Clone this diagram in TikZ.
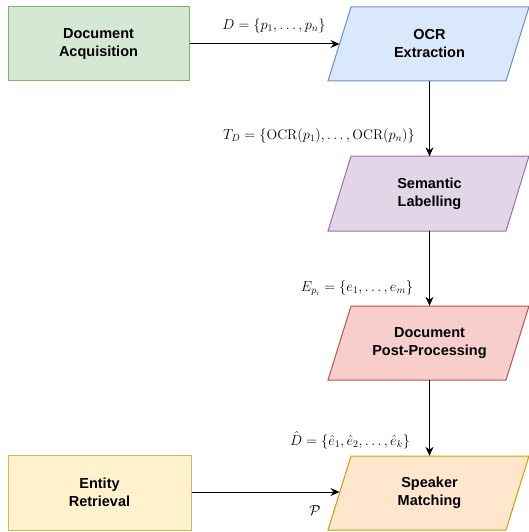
\documentclass[tikz,border=0pt]{standalone}
\usepackage{fontspec}
\setsansfont{Liberation Sans}
\usetikzlibrary{arrows.meta}
\definecolor{gfill}{HTML}{D5E8D4}\definecolor{gline}{HTML}{82B366}
\definecolor{bfill}{HTML}{DAE8FC}\definecolor{bline}{HTML}{6C8EBF}
\definecolor{pfill}{HTML}{E1D5E7}\definecolor{pline}{HTML}{9673A6}
\definecolor{rfill}{HTML}{F8CECC}\definecolor{rline}{HTML}{B85450}
\definecolor{ofill}{HTML}{FFE6CC}\definecolor{oline}{HTML}{D79B00}
\definecolor{yfill}{HTML}{FFF2CC}\definecolor{yline}{HTML}{D6B656}
\tikzset{
  shapeline/.style={line width=1pt},
  boxtext/.style={font=\sffamily\bfseries\fontsize{14.5}{18}\selectfont, align=center, inner sep=0pt},
  pgtext/.style={boxtext, minimum width=150pt, minimum height=74pt},
  rectbox/.style={boxtext, shapeline, minimum width=181pt, minimum height=74pt},
  flow/.style={line width=1pt, -{Stealth[length=9pt,width=8pt]}},
  mlabel/.style={font=\fontsize{14}{17}\selectfont, inner sep=0pt}
}
\newcommand\pgram[5]{%
  \draw[shapeline,#4] (328,#3) -- (351,#2) -- (529,#2) -- (506,#3) -- cycle;
  \node[pgtext] (#1) at (429.5,{(#2+#3)/2}) {#5};}
\begin{document}
\begin{tikzpicture}[x=1pt,y=-1pt]
\useasboundingbox (0,0) rectangle (529,532);
\node[rectbox, draw=gline, fill=gfill] (acq) at (98.5,44) {Document\\Acquisition};
\pgram{ocr}{7}{81}{draw=bline,fill=bfill}{OCR\\Extraction}
\pgram{sem}{156}{231}{draw=pline,fill=pfill}{Semantic\\Labelling}
\pgram{post}{306}{380}{draw=rline,fill=rfill}{Document\\Post-Processing}
\pgram{spk}{456}{530}{draw=oline,fill=ofill}{Speaker\\Matching}
\node[rectbox, draw=yline, fill=yfill, minimum width=183pt, minimum height=75pt] (ent) at (99.5,492.5) {Entity\\Retrieval};
\coordinate (ocrL) at (339.5,44);
\coordinate (spkL) at (339.5,492);
\draw[flow] (acq.east) -- (ocrL);
\draw[flow] (ocr) -- (sem);
\draw[flow] (sem) -- (post);
\draw[flow] (post) -- (spk);
\draw[flow] (ent.east |- spkL) -- (spkL);
\node[mlabel] (l1) at (274,26) {$D=\{p_1,\ldots,p_n\}$};
\node[mlabel] (l2) at (319,136) {$T_D=\{\mathrm{OCR}(p_1),\ldots,\mathrm{OCR}(p_n)\}$};
\node[mlabel] (l3) at (357,288) {$E_{p_i}=\{e_1,\ldots,e_m\}$};
\node[mlabel] (l4) at (350,440) {$\hat{D}=\{\hat{e}_1,\hat{e}_2,\ldots,\hat{e}_k\}$};
\node[mlabel] (l5) at (315,511) {$\mathcal{P}$};
\end{tikzpicture}
\end{document}
